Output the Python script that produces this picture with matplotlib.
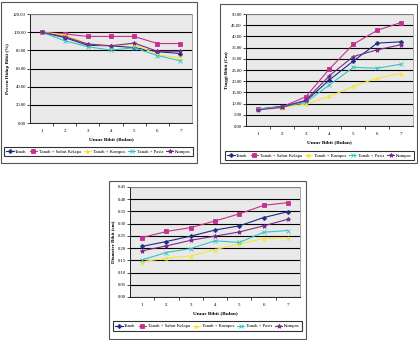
import matplotlib
matplotlib.use("Agg")
import matplotlib.pyplot as plt
from matplotlib.patches import Rectangle
from matplotlib.lines import Line2D
from matplotlib.ticker import FormatStrFormatter, MultipleLocator, FixedLocator

plt.rcParams['font.family'] = ['Liberation Serif', 'DejaVu Serif']

months = [1, 2, 3, 4, 5, 6, 7]
series_names = ["Tanah", "Tanah + Sabut Kelapa", "Tanah + Kompos", "Tanah + Pasir", "Kompos"]

survival_tanah = [100, 94, 85.5, 85, 83, 78.5, 76.5]
survival_sabut = [100, 98, 95.3, 95.3, 95.3, 87.5, 87.5]
survival_kompos_tanah = [100, 97, 87, 85, 87, 75, 72]
survival_pasir = [100, 90.5, 84, 80.2, 82.8, 74.3, 68.5]
survival_kompos = [100, 95, 87, 85, 88, 79, 79]

height_tanah = [7.5, 8.8, 11.1, 20.6, 29.0, 37.0, 37.6]
height_sabut = [7.5, 8.5, 13.0, 25.5, 36.5, 42.7, 46.2]
height_kompos_tanah = [7.5, 8.2, 9.8, 13.2, 17.7, 21.4, 23.4]
height_pasir = [7.5, 8.5, 10.5, 18.4, 26.2, 25.8, 27.6]
height_kompos = [7.2, 8.3, 11.5, 22.5, 31.0, 34.0, 36.3]

diam_tanah = [0.207, 0.227, 0.249, 0.274, 0.291, 0.325, 0.349]
diam_sabut = [0.243, 0.268, 0.284, 0.311, 0.340, 0.375, 0.386]
diam_kompos_tanah = [0.144, 0.159, 0.168, 0.194, 0.217, 0.239, 0.243]
diam_pasir = [0.152, 0.182, 0.198, 0.230, 0.223, 0.265, 0.272]
diam_kompos = [0.189, 0.209, 0.232, 0.249, 0.266, 0.291, 0.318]

colors = ['#1c2a85', '#c4308f', '#f5e63a', '#33c4c4', '#7a2a8a']
markers = ['P', 's', '^', 'x', '*']
msizes = [2.6, 2.6, 2.4, 2.6, 3.2]

W, H = 418, 340
fig = plt.figure(figsize=(W / 100, H / 100), dpi=100)


def rect(l, t, r, b):
    return [l / W, 1 - b / H, (r - l) / W, (b - t) / H]


def box(l, t, r, b, lw=0.8, color='#555555'):
    fig.patches.append(Rectangle((l / W, 1 - b / H), (r - l) / W, (b - t) / H,
                                 transform=fig.transFigure, fill=False,
                                 edgecolor=color, linewidth=lw))


def make_chart(prect, data, ymax, ystep, ylabel, leg_rect):
    ax = fig.add_axes(rect(*prect))
    ax.set_facecolor('#e9e9e9')
    for s, c, m, ms in zip(data, colors, markers, msizes):
        ax.plot(months, s, color=c, marker=m, markersize=ms, linewidth=0.8,
                markeredgewidth=0.6, markerfacecolor=c, markeredgecolor=c, zorder=3)
    ax.set_xlim(0.5, 7.5)
    ax.set_ylim(0, ymax)
    ax.yaxis.set_major_locator(MultipleLocator(ystep))
    ax.yaxis.set_major_formatter(FormatStrFormatter('%.2f'))
    ax.yaxis.grid(True, color='black', linewidth=0.8, zorder=1)
    ax.set_axisbelow(True)
    ax.set_xticks(months)
    ax.xaxis.set_minor_locator(FixedLocator([1.5, 2.5, 3.5, 4.5, 5.5, 6.5]))
    ax.tick_params(axis='x', which='major', length=0, labelsize=3.6, pad=4)
    ax.tick_params(axis='x', which='minor', length=2, width=0.5, direction='out')
    ax.tick_params(axis='y', length=2, width=0.5, labelsize=3.4, pad=1)
    for side in ['top', 'right']:
        ax.spines[side].set_color('#999999')
        ax.spines[side].set_linewidth(0.6)
    for side in ['left', 'bottom']:
        ax.spines[side].set_color('black')
        ax.spines[side].set_linewidth(0.6)
    ax.set_xlabel('Umur Bibit (Bulan)', fontsize=3.8, fontweight='bold', labelpad=3)
    ax.set_ylabel(ylabel, fontsize=3.6, fontweight='bold', labelpad=2)
    handles = [Line2D([0], [0], color=c, marker=m, markersize=ms, linewidth=0.8,
                      markerfacecolor=c, markeredgecolor=c, markeredgewidth=0.6)
               for c, m, ms in zip(colors, markers, msizes)]
    l, t, r, b = leg_rect
    leg = fig.legend(handles, series_names, loc='center',
                     bbox_to_anchor=((l + r) / 2 / W, 1 - (t + b) / 2 / H),
                     ncol=5, fontsize=3.4, frameon=True, fancybox=False,
                     handlelength=1.6, handletextpad=0.3, columnspacing=0.6,
                     borderpad=0.5, edgecolor='black')
    leg.get_frame().set_linewidth(0.8)
    return ax


# Chart 1
box(1, 2, 197, 163)
make_chart((30, 14, 192, 123),
           [survival_tanah, survival_sabut, survival_kompos_tanah, survival_pasir, survival_kompos],
           120, 20, 'Persen Hidup Bibit (%)', (3, 144, 194, 159))

# Chart 2
box(220, 4, 417, 163)
make_chart((246, 14, 413, 126),
           [height_tanah, height_sabut, height_kompos_tanah, height_pasir, height_kompos],
           50, 5, 'Tinggi Bibit (Cm)', (222, 149, 417, 162))

# Chart 3
box(109, 181, 306, 339)
make_chart((130, 187, 300, 297),
           [diam_tanah, diam_sabut, diam_kompos_tanah, diam_pasir, diam_kompos],
           0.45, 0.05, 'Diameter Bibit (cm)', (113, 320, 302, 332))

fig.savefig('out.png', dpi=100, facecolor='white')
